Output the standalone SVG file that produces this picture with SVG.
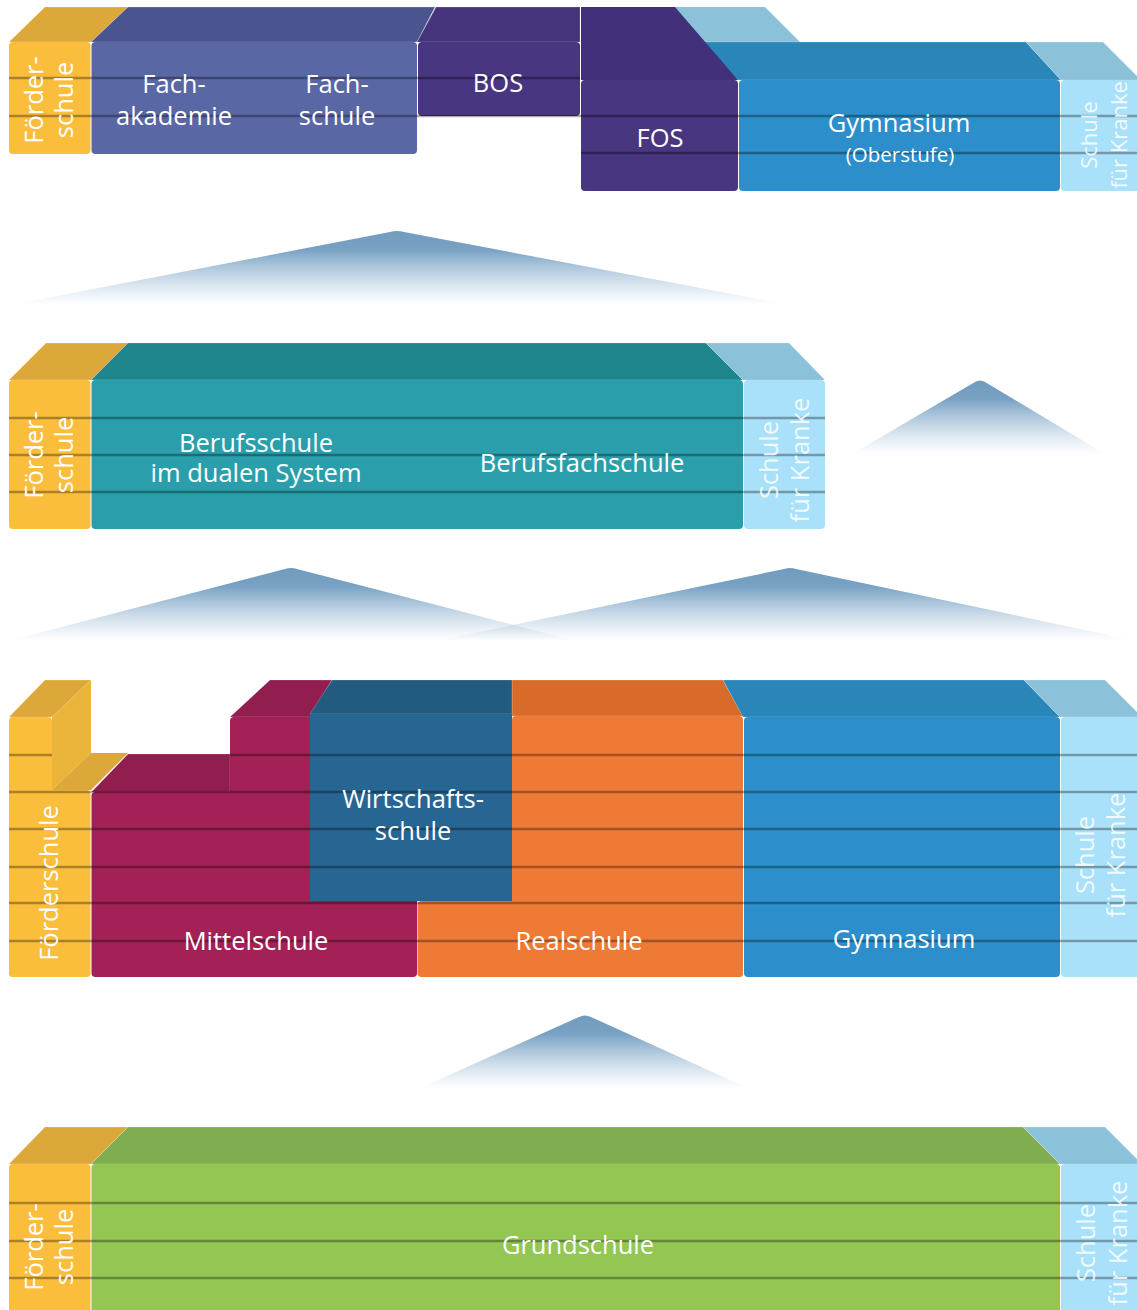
<svg xmlns="http://www.w3.org/2000/svg" width="1137" height="1310" viewBox="0 0 1137 1310">
<defs>
<linearGradient id="tri" x1="0" y1="0" x2="0" y2="1">
<stop offset="0" stop-color="#729cbf" stop-opacity="1"/>
<stop offset="0.25" stop-color="#78a1c3" stop-opacity="1"/>
<stop offset="1" stop-color="#a9c3da" stop-opacity="0"/>
</linearGradient>
<style>
text{font-family:"Open Sans","Noto Sans","DejaVu Sans",sans-serif;fill:#fff;font-size:25.5px;font-weight:500;text-anchor:middle}
.sm{font-size:20.5px;font-weight:400}
.sk{fill:#ffffff;fill-opacity:0.85}
.top{stroke:#fff;stroke-opacity:0.25;stroke-width:0.8}
.ln{stroke:#000;stroke-opacity:0.32;stroke-width:2.6}
.yf{fill:#fbbd3c}.yt{fill:#dca83a}.ys{fill:#ebb43a}
.ff{fill:#5a67a5}.ft{fill:#4a5590}
.pf{fill:#483680}.pt{fill:#46357d}.pt2{fill:#42317a}
.gf{fill:#2c8fcb}.gt{fill:#2a86b8}
.kf{fill:#a8e1f9}.kt{fill:#8bc2da}
.tf{fill:#2a9fab}.tt{fill:#20868e}
.mf{fill:#a32156}.mt{fill:#921d4f}
.wf{fill:#276592}.wt{fill:#235a80}
.of{fill:#ef7a35}.ot{fill:#d96b2a}
.nf{fill:#93c653}.nt{fill:#7fad4f}
</style>
</defs>
<rect width="1137" height="1310" fill="#fff"/>

<!-- Level 1 -->
<g id="foerderschule-1">
<polygon class="yt top" points="9,42 45,7 128,7 91,42"/>
<rect class="yf" x="9" y="42" width="81.5" height="112" rx="4"/>
</g>
<g id="fach">
<polygon class="ft top" points="91,42 128,7 435,7 417,42"/>
<rect class="ff" x="91.5" y="42" width="325.5" height="112" rx="4"/>
</g>
<g id="bos">
<polygon class="pt top" points="417,42 436,7 580,7 580,42"/>
<rect class="pf" x="418" y="42" width="162" height="74" rx="4"/>
</g>
<g id="gymnasium-oberstufe">
<polygon class="kt" points="660,7 765,7 800,42 700,42"/>
<polygon class="gt top" points="700,42 1026,42 1061,80 738,80"/>
<rect class="gf" x="739" y="80" width="321" height="111" rx="4"/>
</g>
<g id="schule-kranke-1">
<polygon class="kt top" points="1026,42 1103,42 1141,80 1061,80"/>
<rect class="kf" x="1061" y="80" width="80" height="111" rx="4"/>
</g>
<g id="fos">
<polygon class="pt2" points="581,7 675,7 738,80 581,80"/>
<rect class="pf" x="581" y="80" width="157" height="111" rx="4"/>
</g>
<g id="lines-1">
<line class="ln" x1="9" y1="78" x2="580" y2="78"/>
<line class="ln" x1="9" y1="116" x2="1137" y2="116"/>
<line class="ln" x1="581" y1="153" x2="1137" y2="153"/>
</g>
<g id="labels-1">
<text transform="translate(43,100) rotate(-90)">Förder-</text>
<text transform="translate(73,100) rotate(-90)">schule</text>
<text x="174" y="93">Fach-</text>
<text x="174" y="125">akademie</text>
<text x="337" y="93">Fach-</text>
<text x="337" y="125">schule</text>
<text x="498" y="92">BOS</text>
<text x="660" y="147">FOS</text>
<text x="899" y="132">Gymnasium</text>
<text class="sm" x="900" y="162">(Oberstufe)</text>
<text class="sk" style="font-size:22px" transform="translate(1097,135) rotate(-90)">Schule</text>
<text class="sk" style="font-size:22px" transform="translate(1127,135) rotate(-90)">für Kranke</text>
</g>

<!-- Level 2 -->
<g id="foerderschule-2">
<polygon class="yt top" points="9,380 46,343 128,343 91,380"/>
<rect class="yf" x="9" y="380" width="81.5" height="149" rx="4"/>
</g>
<g id="berufsschule">
<polygon class="tt top" points="91,380 128,343 706,343 743,380"/>
<rect class="tf" x="91.5" y="380" width="651.5" height="149" rx="4"/>
</g>
<g id="schule-kranke-2">
<polygon class="kt top" points="743,380 706,343 789,343 825,380"/>
<rect class="kf" x="744" y="380" width="81" height="149" rx="4"/>
</g>
<g id="lines-2">
<line class="ln" x1="9" y1="418" x2="825" y2="418"/>
<line class="ln" x1="9" y1="455" x2="825" y2="455"/>
<line class="ln" x1="9" y1="492" x2="825" y2="492"/>
</g>
<g id="labels-2">
<text transform="translate(43,455) rotate(-90)">Förder-</text>
<text transform="translate(73,455) rotate(-90)">schule</text>
<text x="256" y="452">Berufsschule</text>
<text x="256" y="482">im dualen System</text>
<text x="582" y="472">Berufsfachschule</text>
<text class="sk" transform="translate(778,460) rotate(-90)">Schule</text>
<text class="sk" transform="translate(809,460) rotate(-90)">für Kranke</text>
</g>

<!-- Level 3 -->
<g id="foerderschule-3">
<polygon class="yt top" points="9,717 45,680 91,680 52,717"/>
<polygon class="ys" points="52,717 91,680 91,753 52,790"/>
<polygon class="yt" points="52,790 91,753 128,753 91,790"/>
<rect class="yf" x="9" y="717" width="43" height="260" rx="4"/>
<rect class="yf" x="9" y="790" width="81.5" height="187" rx="4"/>
</g>
<g id="mittelschule">
<polygon class="mt top" points="91.5,792 128,754 230,754 230,792"/>
<polygon class="mt top" points="230,717 270,680 332,680 310,717"/>
<rect class="mf" x="230" y="717" width="90" height="80" rx="4"/>
<rect class="mf" x="91.5" y="792" width="325.5" height="185" rx="4"/>
</g>
<g id="realschule">
<polygon class="ot top" points="512,680 723,680 743,716 512,716"/>
<rect class="of" x="512" y="716" width="231" height="261" rx="4"/>
<rect class="of" x="417.5" y="901" width="325.5" height="76" rx="4"/>
</g>
<g id="wirtschaftsschule">
<polygon class="wt top" points="310,714 332,680 512,680 512,714"/>
<rect class="wf" x="310" y="714" width="202" height="187"/>
</g>
<g id="gymnasium">
<polygon class="gt top" points="723,680 1024,680 1060,717 743,717"/>
<rect class="gf" x="744" y="717" width="316" height="260" rx="4"/>
</g>
<g id="schule-kranke-3">
<polygon class="kt top" points="1024,680 1105,680 1142,717 1060,717"/>
<rect class="kf" x="1061" y="717" width="80" height="260" rx="4"/>
</g>
<g id="lines-3">
<line class="ln" x1="9" y1="755" x2="52" y2="755"/>
<line class="ln" x1="230" y1="755" x2="1137" y2="755"/>
<line class="ln" x1="9" y1="792" x2="1137" y2="792"/>
<line class="ln" x1="9" y1="829" x2="1137" y2="829"/>
<line class="ln" x1="9" y1="867" x2="1137" y2="867"/>
<line class="ln" x1="9" y1="903" x2="1137" y2="903"/>
<line class="ln" x1="9" y1="941" x2="1137" y2="941"/>
</g>
<g id="labels-3">
<text transform="translate(58,883) rotate(-90)">Förderschule</text>
<text x="413" y="808">Wirtschafts-</text>
<text x="413" y="840">schule</text>
<text x="256" y="950">Mittelschule</text>
<text x="579" y="950">Realschule</text>
<text x="904" y="948">Gymnasium</text>
<text class="sk" transform="translate(1094,855) rotate(-90)">Schule</text>
<text class="sk" transform="translate(1125,855) rotate(-90)">für Kranke</text>
</g>

<!-- Level 4 -->
<g id="foerderschule-4">
<polygon class="yt top" points="9,1164 45,1127 128,1127 91,1164"/>
<rect class="yf" x="9" y="1164" width="81.5" height="150" rx="4"/>
</g>
<g id="grundschule">
<polygon class="nt top" points="91,1164 128,1127 1023,1127 1060,1164"/>
<rect class="nf" x="91.5" y="1164" width="968.5" height="150" rx="4"/>
</g>
<g id="schule-kranke-4">
<polygon class="kt top" points="1023,1127 1105,1127 1142,1164 1060,1164"/>
<rect class="kf" x="1061" y="1164" width="80" height="150" rx="4"/>
</g>
<g id="lines-4">
<line class="ln" x1="9" y1="1203" x2="1137" y2="1203"/>
<line class="ln" x1="9" y1="1241" x2="1137" y2="1241"/>
<line class="ln" x1="9" y1="1278" x2="1137" y2="1278"/>
</g>
<g id="labels-4">
<text transform="translate(43,1247) rotate(-90)">Förder-</text>
<text transform="translate(73,1247) rotate(-90)">schule</text>
<text x="578" y="1254">Grundschule</text>
<text class="sk" transform="translate(1095,1243) rotate(-90)">Schule</text>
<text class="sk" transform="translate(1127,1243) rotate(-90)">für Kranke</text>
</g>

<!-- Connectors (transition arrows) -->
<g id="connectors" fill="url(#tri)" stroke="none">
<path d="M10,305 L390,232 Q397,230 404,232 L790,305 Z"/>
<path d="M852,454 L975,382 Q980,379 985,382 L1105,454 Z"/>
<path d="M8,641 L285,569 Q291,567 297,569 L576,641 Z"/>
<path d="M436,641 L784,569 Q790,567 796,569 L1137,641 Z"/>
<path d="M418,1089 L579,1017 Q585,1014 591,1017 L750,1089 Z"/>
</g>
</svg>
